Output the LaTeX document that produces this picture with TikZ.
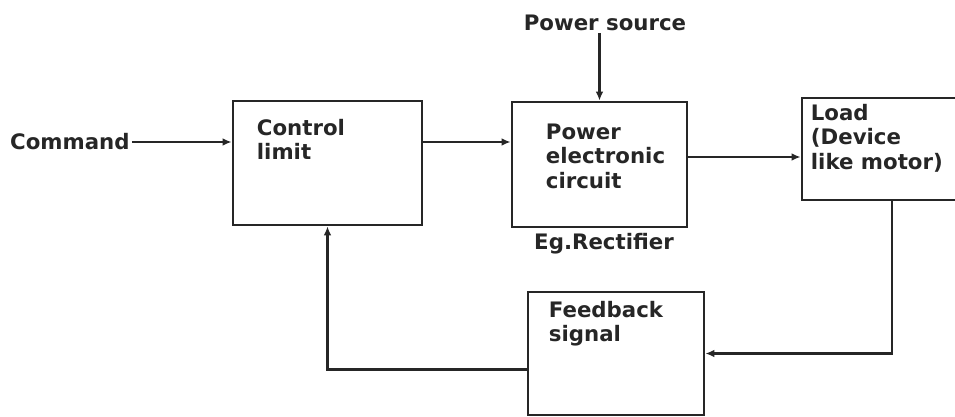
\documentclass[tikz,border=0pt]{standalone}
\usepackage{fontspec}
\setmainfont{DejaVu Sans}
\usetikzlibrary{positioning, arrows.meta, calc}
\definecolor{cink}{HTML}{262626}

\begin{document}
\begin{tikzpicture}[
  x=1pt, y=-1pt,
  font=\bfseries\fontsize{21.3}{24.5}\selectfont,
  blk/.style={
    draw=cink, line width=2.6pt, inner sep=0pt
  },
  txt/.style={
    text=cink, inner sep=0pt, align=left, anchor=north west
  },
  arr/.style={
    draw=cink, line width=2.2pt, -{Latex[length=9pt, width=7.5pt]}
  }
]
\useasboundingbox (0,0) rectangle (955,417);

% ============================================================
% Blocks
% ============================================================
\node[blk, minimum width=189pt, minimum height=124pt] (ctrl) at (327.5,163) {};
\node[blk, minimum width=175pt, minimum height=125pt] (pec)  at (599.5,164.5) {};
\node[blk, minimum width=156pt, minimum height=102pt] (load) at (880,149) {};
\node[blk, minimum width=176pt, minimum height=123pt] (fb)   at (616,353.5) {};

% Block texts, top left inside each box
\node[txt] (ctrltxt) at ($(ctrl.north west)+(25,19)$) {Control\\limit};
\node[txt] (pectxt)  at ($(pec.north west)+(35,23)$) {Power\\electronic\\circuit};
\node[txt] (loadtxt) at ($(load.north west)+(10,7)$) {Load\\(Device\\like motor)};
\node[txt] (fbtxt)   at ($(fb.north west)+(22,10)$) {Feedback\\signal};

% Free labels
\node[txt, anchor=west, inner sep=2pt] (cmd) at (8,142) {Command};
\node[txt, anchor=south, inner sep=2pt] (src) at (605,33) {Power source};
\node[txt, anchor=north, below=5pt of pec.south, xshift=4.5pt] (rect) {Eg.Rectifier};

% ============================================================
% Connectors
% ============================================================
\draw[arr] (cmd.east) -- (cmd.east -| ctrl.west);
\draw[arr] (cmd.east -| ctrl.east) -- (cmd.east -| pec.west);
\draw[arr] (src.south -| pec.north) -- (pec.north);
\draw[arr] ([yshift=7.5pt]pec.east) -- ([yshift=7.5pt]pec.east -| load.west);

% Feedback loop
\draw[arr] ([xshift=12pt]load.south) |- (fb.east);
\draw[arr] ([yshift=-16pt]fb.west) -| (ctrl.south);

\end{tikzpicture}
\end{document}
